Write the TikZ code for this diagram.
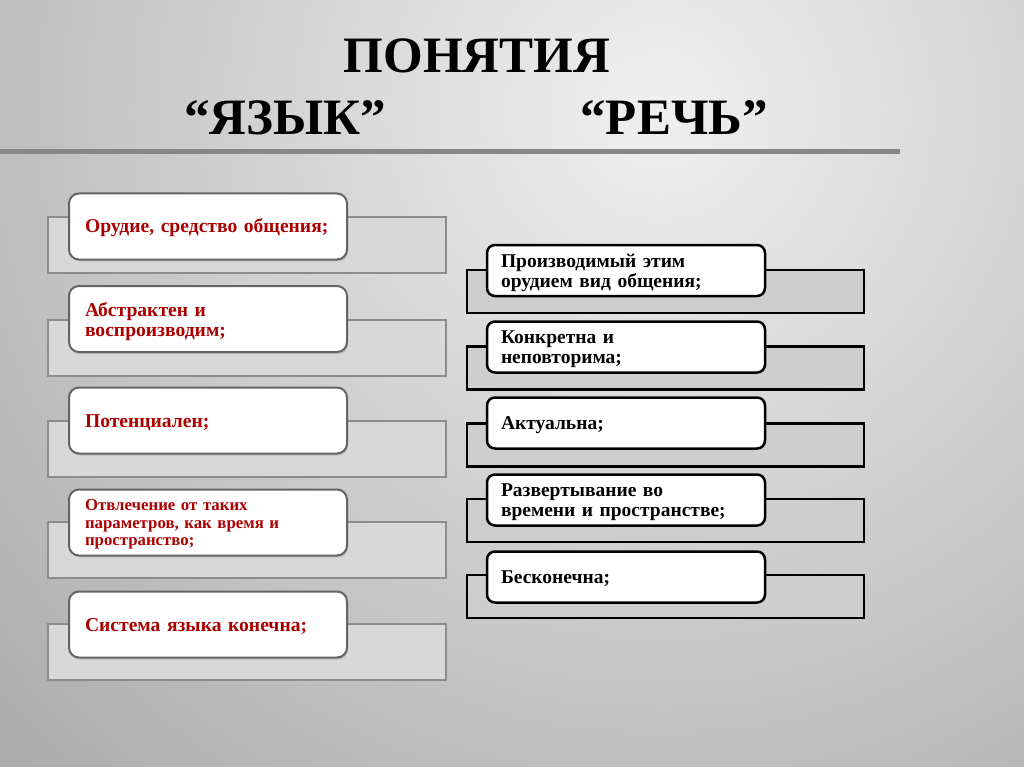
\documentclass[tikz,border=0pt]{standalone}
\usepackage{fontspec}
\setmainfont{Liberation Serif}
\usetikzlibrary{shadows}

\definecolor{bginner}{RGB}{240,240,240}
\definecolor{bgouter}{RGB}{128,128,128}
\definecolor{rulegray}{RGB}{135,135,135}
\definecolor{itemred}{RGB}{172,0,0}
\definecolor{lbackfill}{RGB}{216,216,216}
\definecolor{lbackline}{RGB}{140,140,140}
\definecolor{lboxline}{RGB}{100,100,100}
\definecolor{rbackfill}{RGB}{206,206,206}

\begin{document}
\begin{tikzpicture}[x=1pt,y=-1pt,
  title/.style={anchor=base,font=\fontsize{51}{51}\selectfont\bfseries},
  lback/.style={draw=lbackline,fill=lbackfill,line width=2pt,minimum width=398pt,minimum height=56pt},
  lbox/.style={draw=lboxline,fill=white,line width=2pt,rounded corners=10pt,minimum width=278pt,minimum height=66pt,
    inner xsep=16pt,text width=246pt,text height=13pt,text depth=0pt,align=left,text=itemred,
    font=\fontsize{19.6}{20}\selectfont\bfseries,
    drop shadow={shadow xshift=1pt,shadow yshift=-2pt,opacity=0.3}},
  rback/.style={draw=black,fill=rbackfill,line width=2.5pt,minimum width=397pt,minimum height=43pt},
  rbox/.style={draw=black,fill=white,line width=2.5pt,rounded corners=8pt,minimum width=278pt,minimum height=51pt,
    inner xsep=14pt,text width=250pt,text height=13pt,text depth=0pt,align=left,
    font=\fontsize{19.5}{20}\selectfont\bfseries}]
\useasboundingbox (0,0) rectangle (1024,767);
% background
\begin{scope}
\clip (0,0) rectangle (1024,767);
\fill[bgouter] (0,0) rectangle (1024,767);
\shade[inner color=bginner,outer color=bgouter] (660,110) circle (1500pt);
\end{scope}
% title
\node[title] (concepts) at (477,73) {ПОНЯТИЯ};
\node[title] (language) at (285,135) {“ЯЗЫК”};
\node[title] (speech) at (674,135) {“РЕЧЬ”};
\draw[rulegray,line width=5pt] (0,152) -- (900,152);
% language column
\node[lback] (lback1) at (247,245) {};
\node[lbox] (lbox1) at (208,226.5) {Орудие, средство общения;};
\node[lback] (lback2) at (247,347.5) {};
\node[lbox,text depth=19pt] (lbox2) at (208,319) {Абстрактен и\\воспроизводим;};
\node[lback] (lback3) at (247,449) {};
\node[lbox] (lbox3) at (208,420.5) {Потенциален;};
\node[lback] (lback4) at (247,550) {};
\node[lbox,text height=11pt,text depth=35pt,font=\fontsize{16.8}{17.5}\selectfont\bfseries] (lbox4) at (208,522.5) {Отвлечение от таких\\параметров, как время и\\пространство;};
\node[lback] (lback5) at (247,652) {};
\node[lbox] (lbox5) at (208,624.5) {Система языка конечна;};
% speech column
\node[rback] (rback1) at (665.5,291.5) {};
\node[rbox,text depth=20pt] (rbox1) at (626,270.5) {Производимый этим\\орудием вид общения;};
\node[rback] (rback2) at (665.5,368) {};
\node[rbox,text depth=20pt] (rbox2) at (626,347) {Конкретна и\\неповторима;};
\node[rback] (rback3) at (665.5,445) {};
\node[rbox] (rbox3) at (626,423) {Актуальна;};
\node[rback] (rback4) at (665.5,520.5) {};
\node[rbox,text depth=20pt] (rbox4) at (626,500) {Развертывание во\\времени и пространстве;};
\node[rback] (rback5) at (665.5,596.5) {};
\node[rbox] (rbox5) at (626,577) {Бесконечна;};
\end{tikzpicture}
\end{document}
